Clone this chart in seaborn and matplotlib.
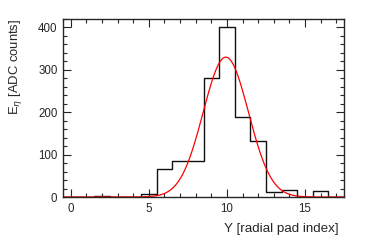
import numpy as np
import pandas as pd
import matplotlib
matplotlib.use("Agg")
import matplotlib.pyplot as plt
from matplotlib.ticker import MultipleLocator
import seaborn as sns

# histogram contents per radial pad
pads = list(range(0, 18))
counts = [0, 0, 2, 0, 0, 6, 65, 85, 85, 280, 400, 189, 132, 11, 17, 0, 15, 0]

# gaussian fit parameters
fit_amp = 330
fit_mean = 9.93
fit_sigma = 1.45

sns.set_style("ticks")
plt.rcParams['font.family'] = ['Liberation Sans', 'DejaVu Sans']
plt.rcParams['font.size'] = 8

fig = plt.figure(figsize=(3.74, 2.41), dpi=100)
ax = fig.add_axes([63/374, 1-197/241, (344-63)/374, (197-19)/241])

df = pd.DataFrame({"pad": pads, "counts": counts})
sns.histplot(data=df, x="pad", weights="counts", binwidth=1, binrange=(-0.5, 17.5),
             element="step", fill=False, color="#111111", linewidth=1.0, ax=ax)

xf = np.linspace(-0.5, 17.5, 400)
yf = fit_amp*np.exp(-0.5*((xf-fit_mean)/fit_sigma)**2)
sns.lineplot(x=xf, y=yf, color="red", linewidth=0.9, ax=ax)

ax.set_xlim(-0.5, 17.5)
ax.set_ylim(0, 420)
ax.xaxis.set_major_locator(MultipleLocator(5))
ax.xaxis.set_minor_locator(MultipleLocator(1))
ax.yaxis.set_major_locator(MultipleLocator(100))
ax.yaxis.set_minor_locator(MultipleLocator(20))
ax.tick_params(which="both", direction="in", top=True, right=True, width=0.8)
ax.tick_params(which="major", length=6, labelsize=8.3, pad=4)
ax.tick_params(which="minor", length=3)
for s in ax.spines.values():
    s.set_linewidth(1.0)

ax.set_xlabel("Y [radial pad index]", fontsize=9.6, loc="right")
ax.set_ylabel(r"E$_{\eta}$ [ADC counts]", fontsize=9.4, loc="top")
ax.xaxis.set_label_coords(0.98, -0.145)
ax.yaxis.set_label_coords(-0.14, 1.0)

fig.savefig("out.png", dpi=100)
